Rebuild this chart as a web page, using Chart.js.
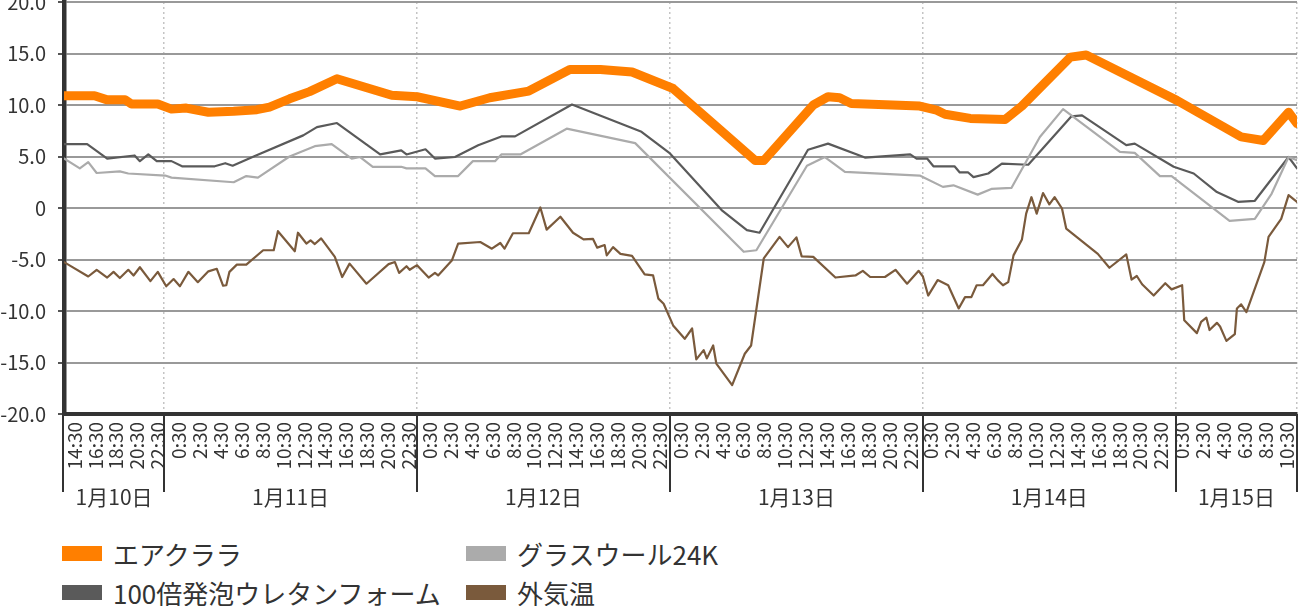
<!DOCTYPE html>
<html lang="ja">
<head>
<meta charset="utf-8">
<title>温度推移</title>
<script src="https://cdn.jsdelivr.net/npm/chart.js@4.4.1/dist/chart.umd.min.js"></script>
<style>
    body { margin: 0; background: #fff; width: 1302px; height: 606px; overflow: hidden; position: relative; font-family: "Noto Sans CJK JP", sans-serif; }
    #chartBox { position: absolute; left: 0; top: 0; width: 1302px; height: 520px; }
    #legend { position: absolute; left: 62px; top: 534px; display: grid; grid-template-columns: 404px auto; color: #333; font-size: 26px; }
    .item { display: flex; align-items: center; height: 39px; white-space: nowrap; }
    .swatch { width: 40px; height: 15px; margin-right: 11px; flex: none; }
</style>
</head>
<body>
<div id="chartBox"><canvas id="tempChart"></canvas></div>
<div id="legend"></div>
<script>
// time = hours counted from 1/10 0:00
const dayLabels = ['1月10日', '1月11日', '1月12日', '1月13日', '1月14日', '1月15日'];
const dayBreaks = [24, 48, 72, 96, 120];
const startHour = 14.5;   // 1/10 14:30
const endHour = 131.5;    // 1/15 11:30

// 2-hour tick labels, 14:30 ... 10:30
const timeLabels = [];
for (let h = 14.5; h <= 130.5; h += 2) timeLabels.push(Math.floor(h % 24) + ':30');

// エアクララ
const airTimes = [14.5, 17.4, 18.6, 20.3, 20.9, 23.4, 24.7, 26.1, 28.2, 30.6, 32.8, 34.0, 35.9, 37.8, 40.4,
    45.6, 48.0, 52.1, 54.9, 58.6, 62.5, 65.4, 68.4, 72.3, 80.1, 80.9, 85.6, 87.0, 88.1, 89.2,
    95.7, 97.3, 98.1, 100.5, 103.8, 105.4, 110.0, 111.5, 120.1, 126.2, 128.3, 130.7, 131.5];
const airValues = [10.9, 10.9, 10.5, 10.5, 10.1, 10.1, 9.6, 9.7, 9.3, 9.4, 9.55, 9.8, 10.6, 11.3, 12.55,
    10.95, 10.8, 9.9, 10.7, 11.35, 13.45, 13.45, 13.2, 11.6, 4.6, 4.6, 10.0, 10.8, 10.7, 10.15,
    9.9, 9.5, 9.1, 8.7, 8.6, 9.9, 14.65, 14.85, 10.45, 6.9, 6.55, 9.3, 8.2];

// グラスウール24K
const glassTimes = [14.5, 16.0, 16.8, 17.6, 19.8, 20.6, 24.1, 24.7, 30.6, 31.8, 32.9, 35.9, 38.3, 39.9, 41.8,
    42.6, 43.8, 46.5, 47.0, 48.8, 49.7, 51.9, 53.3, 55.4, 56.0, 57.8, 62.2, 68.7, 79.0, 80.2,
    85.0, 86.7, 88.6, 95.7, 97.9, 98.9, 101.2, 102.5, 104.4, 107.1, 109.3, 114.7, 116.1, 118.5, 119.6,
    125.1, 127.5, 129.1, 130.7, 131.5];
const glassValues = [4.8, 3.85, 4.45, 3.4, 3.55, 3.35, 3.15, 2.95, 2.5, 3.1, 2.95, 5.0, 6.0, 6.2, 4.8,
    4.95, 4.0, 4.0, 3.85, 3.85, 3.1, 3.1, 4.55, 4.55, 5.2, 5.2, 7.7, 6.3, -4.25, -4.1,
    4.1, 4.95, 3.5, 3.15, 2.05, 2.2, 1.3, 1.85, 1.95, 6.9, 9.6, 5.45, 5.35, 3.1, 3.1,
    -1.25, -1.05, 1.4, 4.95, 4.65];

// 100倍発泡ウレタンフォーム
const foamTimes = [14.5, 16.7, 18.6, 21.2, 21.7, 22.5, 23.3, 24.7, 25.7, 28.8, 29.8, 30.5, 32.5, 37.2, 38.5,
    40.4, 44.5, 46.5, 47.0, 48.8, 49.7, 51.6, 53.8, 56.0, 57.3, 62.7, 69.3, 72.0, 76.9, 79.3,
    80.5, 85.1, 87.0, 90.5, 94.8, 95.4, 96.4, 97.0, 99.0, 99.5, 100.3, 100.8, 102.2, 103.5, 106.0,
    110.1, 111.1, 115.3, 116.1, 119.8, 121.7, 123.9, 125.9, 127.5, 130.7, 131.5];
const foamValues = [6.2, 6.2, 4.8, 5.1, 4.55, 5.2, 4.55, 4.55, 4.05, 4.05, 4.35, 4.1, 5.0, 7.05, 7.85,
    8.25, 5.2, 5.6, 5.2, 5.7, 4.8, 4.95, 6.1, 6.95, 6.95, 10.05, 7.4, 5.3, -0.2, -2.15,
    -2.4, 5.65, 6.25, 4.9, 5.2, 4.8, 4.8, 4.05, 4.05, 3.45, 3.45, 3.0, 3.35, 4.3, 4.2,
    8.9, 9.0, 6.1, 6.25, 4.0, 3.35, 1.55, 0.6, 0.7, 4.95, 3.85];

// 外気温
const outTimes = [14.5, 16.8, 17.6, 18.6, 19.2, 19.8, 20.6, 21.1, 21.7, 22.7,
    23.4, 24.2, 24.9, 25.5, 26.3, 27.2, 28.2, 29.0, 29.6, 29.9,
    30.2, 30.9, 31.8, 33.4, 34.4, 34.8, 36.4, 36.7, 37.5, 37.9,
    38.3, 38.9, 40.2, 40.9, 41.6, 43.2, 45.3, 45.9, 46.3, 47.0,
    47.3, 48.0, 49.1, 49.7, 50.0, 51.3, 51.9, 54.0, 55.1, 55.9,
    56.3, 57.1, 58.6, 59.7, 60.3, 61.6, 62.8, 63.8, 64.7, 65.1,
    65.8, 66.0, 66.6, 67.3, 68.4, 69.6, 70.4, 70.9, 71.4, 72.3,
    73.4, 74.1, 74.5, 75.2, 75.5, 76.1, 76.4, 77.9, 79.1, 79.7,
    80.9, 82.4, 83.2, 84.0, 84.5, 85.6, 87.7, 89.6, 90.3, 91.0,
    92.4, 93.4, 94.5, 95.6, 96.0, 96.5, 97.4, 98.4, 99.4, 100.0,
    100.6, 101.1, 101.7, 102.6, 103.1, 103.6, 104.1, 104.6, 105.4, 105.8,
    106.3, 106.8, 107.4, 108.0, 108.5, 109.2, 109.6, 112.6, 113.7, 115.3,
    115.8, 116.3, 116.8, 117.9, 119.0, 119.6, 120.6, 120.8, 122.0, 122.4,
    122.9, 123.2, 123.9, 124.2, 124.8, 125.6, 125.8, 126.2, 126.7, 128.4,
    128.8, 130.0, 130.7, 131.5];
const outValues = [-5.25, -6.65, -6.0, -6.75, -6.2, -6.8, -6.0, -6.55, -5.75, -7.1,
    -6.2, -7.6, -6.9, -7.6, -6.2, -7.2, -6.15, -5.9, -7.55, -7.5,
    -6.2, -5.5, -5.5, -4.1, -4.1, -2.25, -4.2, -2.4, -3.45, -3.15,
    -3.5, -2.95, -4.75, -6.7, -5.4, -7.35, -5.45, -5.25, -6.3, -5.65,
    -6.0, -5.55, -6.75, -6.3, -6.55, -5.1, -3.45, -3.3, -3.95, -3.4,
    -3.95, -2.45, -2.45, 0.05, -2.1, -0.85, -2.4, -3.05, -3.0, -3.85,
    -3.6, -4.6, -3.8, -4.45, -4.65, -6.45, -6.55, -8.8, -9.3, -11.4,
    -12.7, -11.7, -14.7, -13.8, -14.6, -13.35, -15.1, -17.2, -14.15, -13.35,
    -4.9, -2.8, -3.8, -2.85, -4.7, -4.75, -6.75, -6.55, -6.1, -6.7,
    -6.7, -6.0, -7.35, -6.1, -6.65, -8.5, -7.0, -7.5, -9.75, -8.65,
    -8.65, -7.5, -7.5, -6.4, -7.0, -7.5, -7.2, -4.6, -3.05, -0.55,
    1.05, -0.55, 1.45, 0.35, 1.05, -0.05, -2.0, -4.45, -5.8, -4.5,
    -6.95, -6.6, -7.4, -8.5, -7.3, -7.9, -7.5, -10.9, -12.15, -11.05,
    -10.65, -11.85, -11.15, -11.5, -12.9, -12.25, -9.75, -9.35, -10.1, -5.25,
    -2.8, -1.05, 1.25, 0.6];

function toPoints(times, values) {
    return times.map((t, i) => ({ x: t, y: values[i] }));
}

function lineSet(label, times, values, color, width, order) {
    return {
        label: label,
        data: toPoints(times, values),
        borderColor: color,
        backgroundColor: color,
        borderWidth: width,
        pointRadius: 0,
        tension: 0,
        borderJoinStyle: 'round',
        borderCapStyle: 'round',
        order: order
    };
}

// day separators and 1月xx日 labels under the time labels
const dayAxisPlugin = {
    id: 'dayAxis',
    afterDraw(chart) {
        const xs = chart.scales.x;
        const ctx = chart.ctx;
        const top = chart.chartArea.bottom;
        const edges = [xs.min, ...dayBreaks, xs.max];
        ctx.save();
        ctx.strokeStyle = '#333';
        ctx.lineWidth = 2;
        edges.forEach((h, i) => {
            let px = Math.round(xs.getPixelForValue(h));
            if (i === 0) px -= 1;
            ctx.beginPath();
            ctx.moveTo(px, top);
            ctx.lineTo(px, top + 78);
            ctx.stroke();
        });
        ctx.fillStyle = '#333';
        ctx.font = '21px "Noto Sans CJK JP"';
        ctx.textAlign = 'center';
        ctx.textBaseline = 'middle';
        dayLabels.forEach((lab, i) => {
            const cx = (xs.getPixelForValue(edges[i]) + xs.getPixelForValue(edges[i + 1])) / 2;
            ctx.fillText(lab, cx, top + 83);
        });
        ctx.restore();
    }
};

const ctx = document.getElementById('tempChart').getContext('2d');
const chart = new Chart(ctx, {
    type: 'line',
    data: {
        datasets: [
            lineSet('エアクララ', airTimes, airValues, '#ff7f00', 9, 0),
            lineSet('グラスウール24K', glassTimes, glassValues, '#ababab', 2.2, 1),
            lineSet('100倍発泡ウレタンフォーム', foamTimes, foamValues, '#5a5a5a', 2.2, 2),
            lineSet('外気温', outTimes, outValues, '#7a5a3c', 2.2, 3)
        ]
    },
    plugins: [dayAxisPlugin],
    options: {
        responsive: true,
        maintainAspectRatio: false,
        animation: false,
        layout: {
            padding: { left: 0, right: 5, top: 2, bottom: 44 }
        },
        plugins: {
            legend: { display: false },
            tooltip: { enabled: false }
        },
        scales: {
            x: {
                type: 'linear',
                position: 'bottom',
                weight: 0,
                min: startHour,
                max: endHour,
                afterBuildTicks: s => { s.ticks = [...dayBreaks, endHour].map(v => ({ value: v })); },
                afterFit: s => { s.height = 0; },
                ticks: { display: false },
                grid: { color: '#c4c4c4', lineWidth: 1.5, drawTicks: false },
                border: { display: true, color: '#333', width: 4, dash: [2, 3] }
            },
            xt: {
                type: 'category',
                position: 'bottom',
                weight: 1,
                labels: timeLabels,
                offset: true,
                afterFit: s => { s.height = 62; s.paddingLeft = 0; s.paddingRight = 0; },
                grid: { display: false, drawTicks: false },
                border: { display: false },
                ticks: {
                    autoSkip: false,
                    maxRotation: 90,
                    minRotation: 90,
                    padding: 8,
                    color: '#333',
                    font: { family: '"Noto Sans CJK JP"', size: 19 }
                }
            },
            y: {
                min: -20,
                max: 20,
                afterFit: s => { s.width = 64; s.paddingTop = 0; s.paddingBottom = 0; },
                ticks: {
                    stepSize: 5,
                    padding: 12,
                    color: '#333',
                    font: { family: '"Noto Sans CJK JP"', size: 20 },
                    callback: v => v === 0 ? '0' : v.toFixed(1)
                },
                grid: { color: '#999', lineWidth: 2, tickLength: 6, tickColor: '#555', tickWidth: 2 },
                border: { display: true, color: '#333', width: 4.5 }
            }
        }
    }
});

// legend in two columns, same order as the datasets
document.getElementById('legend').innerHTML = chart.data.datasets.map(ds => `
    <div class="item"><span class="swatch" style="background:${ds.borderColor}"></span><span>${ds.label}</span></div>
`).join('');
</script>
</body>
</html>
